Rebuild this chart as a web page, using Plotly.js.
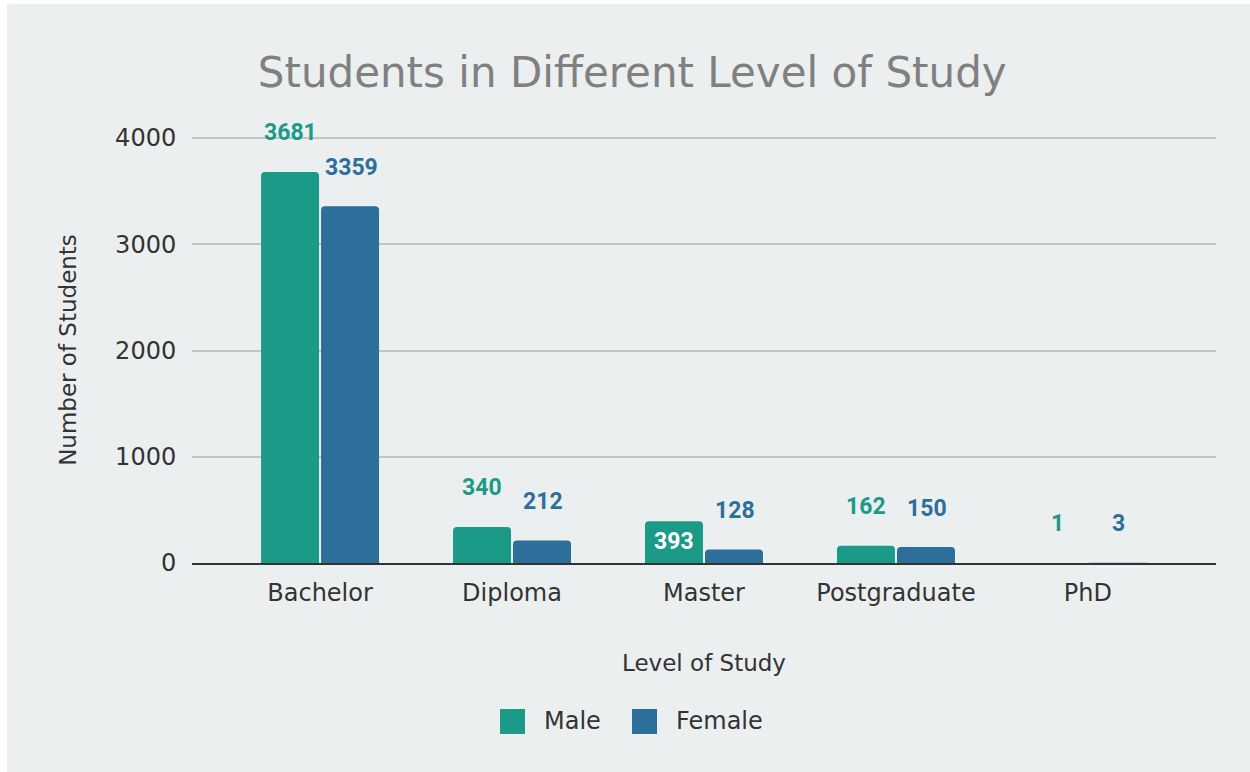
<!DOCTYPE html>
<html>
<head>
<meta charset="utf-8">
<script src="https://cdn.plot.ly/plotly-3.0.1.min.js"></script>
<style>
  html, body { margin: 0; padding: 0; background: #ffffff; }
  #chart { position: absolute; left: 7px; top: 4px; width: 1243px; height: 768px; }
</style>
</head>
<body>
<div id="chart"></div>
<script>
// ---- data ----
const categories = ["Bachelor", "Diploma", "Master", "Postgraduate", "PhD"];
const maleValues = [3681, 340, 393, 162, 1];
const femaleValues = [3359, 212, 128, 150, 3];
const seriesNames = ["Male", "Female"];
const yTickValues = [0, 1000, 2000, 3000, 4000];
const maleLabelInside = [false, false, true, false, false];
const femaleLabelInside = [false, false, false, false, false];

// ---- style ----
const maleColor = "#1b9a87";
const femaleColor = "#2c6f9b";
const bg = "#eceff0";
const labelFont = "Roboto, 'DejaVu Sans', sans-serif";
const baseFont = "'DejaVu Sans', Verdana, sans-serif";

function barTrace(name, values, color) {
  return {
    type: "bar",
    name: name,
    x: categories,
    y: values,
    marker: { color: color, cornerradius: 4 },
    showlegend: false,
    hoverinfo: "x+y+name"
  };
}

const traces = [
  barTrace(seriesNames[0], maleValues, maleColor),
  barTrace(seriesNames[1], femaleValues, femaleColor)
];

const annotations = [];
function addLabels(values, color, inside, shift) {
  values.forEach((v, i) => {
    annotations.push({
      xref: "x", yref: "y",
      x: categories[i], y: v,
      text: String(v),
      showarrow: false,
      xshift: shift,
      yshift: inside[i] ? -20 : 39,
      yanchor: "middle",
      font: { family: labelFont, size: 23, color: inside[i] ? "#ffffff" : color, weight: "bold" }
    });
  });
}
addLabels(maleValues, maleColor, maleLabelInside, -30);
addLabels(femaleValues, femaleColor, femaleLabelInside, 31);

// plot-area geometry (div pixels) used for the custom legend
const W = 1243, H = 768;
const PL = 185, PW = 1024, PB = 559, PH = 426;

// custom legend (large squares)
const legendItems = [
  { name: seriesNames[0], color: maleColor, x0: 493, tx: 535 },
  { name: seriesNames[1], color: femaleColor, x0: 625, tx: 667 }
];
const shapes = [];
legendItems.forEach(it => {
  const x0 = it.x0, x1 = it.x0 + 25, y0 = 705, y1 = 730;
  shapes.push({
    type: "rect", xref: "paper", yref: "paper",
    x0: (x0 - PL) / PW, x1: (x1 - PL) / PW,
    y0: (PB - y1) / PH, y1: (PB - y0) / PH,
    fillcolor: it.color, line: { width: 0 }
  });
  annotations.push({
    xref: "paper", yref: "paper",
    x: (it.tx - PL) / PW, y: (PB - 717) / PH,
    xanchor: "left", yanchor: "middle",
    text: it.name, showarrow: false,
    font: { family: baseFont, size: 24, color: "#333333" }
  });
});

const layout = {
  width: W, height: H,
  paper_bgcolor: bg, plot_bgcolor: bg,
  margin: { l: PL, r: W - PL - PW, t: PB - PH, b: H - PB, pad: 0 },
  title: {
    text: "Students in Different Level of Study",
    font: { family: baseFont, size: 42, color: "#808080" },
    x: 0.503, xref: "container", xanchor: "center",
    y: 1 - 68 / H, yref: "container", yanchor: "middle"
  },
  bargap: 0.375,
  bargroupgap: 0.033,
  barmode: "group",
  showlegend: false,
  xaxis: {
    type: "category",
    range: [-0.667, 4.667],
    showline: true, linecolor: "#333333", linewidth: 2,
    showgrid: false, zeroline: false,
    ticks: "outside", ticklen: 7, tickcolor: "rgba(0,0,0,0)",
    tickfont: { family: baseFont, size: 24, color: "#333333" },
    title: { text: "Level of Study", font: { family: baseFont, size: 23, color: "#333333" }, standoff: 49 }
  },
  yaxis: {
    range: [0, 4010],
    tickvals: yTickValues,
    ticktext: yTickValues.map(String),
    showgrid: true, gridcolor: "#c2c4c5", gridwidth: 2,
    zeroline: false, showline: false,
    ticks: "outside", ticklen: 10, tickcolor: "rgba(0,0,0,0)",
    tickfont: { family: baseFont, size: 24, color: "#333333" },
    title: { text: "Number of Students", font: { family: baseFont, size: 23, color: "#333333" }, standoff: 32 }
  },
  annotations: annotations,
  shapes: shapes
};

Plotly.newPlot("chart", traces, layout, { displayModeBar: false, staticPlot: true });
</script>
</body>
</html>
